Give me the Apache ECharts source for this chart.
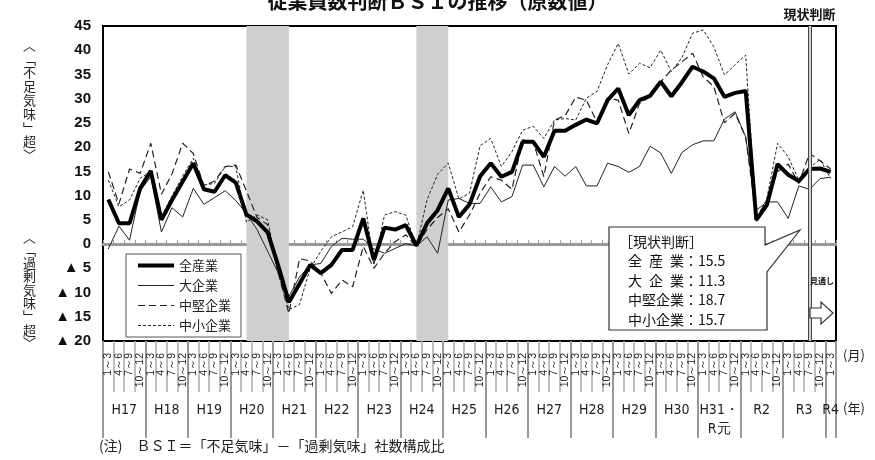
<!DOCTYPE html>
<html>
<head>
<meta charset="utf-8">
<title>従業員数判断BSIの推移</title>
<script src="https://cdn.jsdelivr.net/npm/echarts@6/dist/echarts.min.js"></script>
<style>
  html, body { margin: 0; padding: 0; background: #fff; }
  #chart { width: 875px; height: 460px; }
</style>
</head>
<body>
<div id="chart"></div>
<script>
// 四半期・年のラベル
const quarterNames = ['1～3', '4～6', '7～9', '10～12'];
const yearNames = ['H17', 'H18', 'H19', 'H20', 'H21', 'H22', 'H23', 'H24', 'H25',
  'H26', 'H27', 'H28', 'H29', 'H30', 'H31・\nR元', 'R2', 'R3', 'R4'];

// BSI（H17 1-3月 ～ R4 1-3月、四半期）
const allIndustries = [
  9.2, 4.3, 4.3, 11.5,  15.1, 5.0, 9.1, 12.9,  16.7, 11.3, 10.8, 14.2,
  12.7, 6.1, 4.7, 2.4,  -4.5, -12.0, -8.2, -4.3,  -6.0, -4.3, -1.2, -1.2,
  5.3, -3.3, 3.4, 3.0,  3.9, -0.3, 4.3, 7.0,  11.5, 5.6, 8.2, 14.0,
  16.7, 13.9, 14.9, 21.1,  21.1, 18.0, 23.4, 23.4,  24.6, 25.7, 24.9, 29.7,
  32.1, 26.6, 29.7, 30.6,  33.5, 30.5, 33.4, 36.6,  35.6, 34.2, 30.4, 31.2,
  31.6, 5.0, 8.1, 16.5,  14.3, 13.0, 15.5, 15.6,  14.9
];
const largeCorp = [
  -1.0, 3.7, 0.8, 11.0,  13.9, 2.5, 7.5, 5.6,  11.5, 8.2, 9.6, 11.0,
  9.0, 6.3, 3.0, -1.5,  -6.0, -10.8, -6.8, -4.3,  -4.0, -0.5, 1.2, 1.0,
  1.0, -1.0, -1.9, -0.9,  0.1, -0.4, 1.5, -1.9,  9.1, 9.4, 8.4, 8.4,
  11.8, 8.7, 9.8, 16.3,  16.3, 11.8, 16.0, 14.0,  16.0, 12.0, 12.0, 16.7,
  16.0, 14.8, 16.0, 20.2,  18.8, 14.6, 18.9, 20.5,  21.3, 21.3, 25.8, 27.3,
  22.1, 7.0, 8.7, 8.7,  5.3, 12.0, 11.3, 13.5,  13.8
];
const midCorp = [
  14.9, 8.3, 15.5, 14.6,  20.8, 10.3, 14.5, 20.8,  18.7, 12.0, 13.0, 16.0,
  16.3, 11.0, 5.5, 4.0,  -6.0, -14.3, -3.0, -3.5,  -6.0, -10.2, -7.4, -8.8,
  -0.5, -5.0, -1.9, 0.5,  1.9, -0.5, 3.0, 5.5,  7.3, 2.5, 6.0, 10.5,
  13.9, 13.2, 11.3, 21.5,  21.1, 13.9, 25.6, 26.5,  30.3, 29.7, 25.2, 30.1,
  29.7, 22.8, 29.0, 30.4,  33.5, 35.9, 37.6, 39.4,  34.5, 32.5, 25.0, 27.0,
  22.0, 5.5, 9.0, 15.0,  16.5, 12.5, 18.7, 17.2,  15.5
];
const smallCorp = [
  13.2, 7.7, 9.1, 13.6,  14.9, 5.6, 10.0, 14.0,  17.7, 12.2, 12.5, 16.0,
  16.0, 4.5, 6.0, 5.0,  -6.0, -13.5, -12.5, -5.0,  -1.5, 1.5, 2.5, 3.6,
  11.1, -4.3, 6.0, 6.7,  6.0, -0.5, 9.1, 14.4,  16.7, 9.3, 10.5, 20.3,
  21.8, 16.0, 19.1, 23.5,  24.3, 21.8, 25.6, 25.9,  25.6, 30.1, 31.5, 37.0,
  41.4, 35.1, 37.3, 36.4,  40.0, 35.6, 38.5, 43.5,  44.2, 40.7, 34.9, 37.0,
  39.0, 4.5, 9.5, 20.8,  18.0, 13.2, 15.7, 17.5,  13.5
];

// 景気後退期（網掛け）と現状判断の位置（四半期インデックス）
const shadeRanges = [[13, 17], [29, 32]];
const currentIndex = 66;

const categories = [];
yearNames.forEach((y, yi) => {
  quarterNames.forEach((q, qi) => {
    if (yi < yearNames.length - 1 || qi === 0) categories.push(q);
  });
});
const nQ = categories.length;
const yearTicks = yearNames.map((y, i) => i * 4).concat([nQ]);
const yearCenters = yearNames.map((y, i) => Math.min(i * 4 + 2, (i * 4 + nQ) / 2));

const LAT = "'Liberation Sans', Arial, sans-serif";
const JP = "'Noto Sans CJK JP', sans-serif";

const chart = echarts.init(document.getElementById('chart'));

function lineSeries (name, data, style) {
  return {
    name: name,
    type: 'line',
    data: data,
    symbol: 'none',
    z: 3,
    animation: false,
    itemStyle: { color: style.color },
    lineStyle: style
  };
}

const boxLabels = ['全\u2002産\u2002業', '大\u2002企\u2002業', '中堅企業', '中小企業'];
const boxValues = [allIndustries, largeCorp, midCorp, smallCorp].map(a => a[currentIndex].toFixed(1));

const graphics = [
  // 縦書きの軸タイトル
  {
    type: 'text', left: 23, top: 38, z: 10,
    style: { text: '︿\n﹁\n不\n足\n気\n味\n﹂\n超\n﹀', font: '13px ' + JP, lineHeight: 13.8, fill: '#222', align: 'center' }
  },
  {
    type: 'text', left: 23, top: 230, z: 10,
    style: { text: '︿\n﹁\n過\n剰\n気\n味\n﹂\n超\n﹀', font: '13px ' + JP, lineHeight: 13.3, fill: '#222', align: 'center' }
  },
  { type: 'text', left: 843, top: 349, style: { text: '(月)', font: '13px ' + JP, fill: '#222' } },
  { type: 'text', left: 843, top: 402, style: { text: '(年)', font: '13px ' + JP, fill: '#222' } },
  {
    type: 'text', left: 99, top: 439,
    style: { text: '(注)　ＢＳＩ＝「不足気味」－「過剰気味」社数構成比', font: '14px ' + JP, fill: '#222' }
  },
  { type: 'text', left: 58, top: -15, style: { text: '（図表１）', font: '14px ' + JP, fill: '#aaa' } },
  // 吹き出し
  {
    type: 'polygon', z: 20,
    shape: { points: [[609, 227], [765, 227], [765, 245], [800, 230], [767, 272], [767, 330], [609, 330]] },
    style: { fill: '#fff', stroke: '#333', lineWidth: 1.2 }
  },
  { type: 'text', left: 619, top: 235, z: 21, style: { text: '［現状判断］', font: '14px ' + JP, fill: '#111' } },
  // 見通し
  { type: 'text', left: 810, top: 277, z: 21, style: { text: '見通し', font: 'bold 8px ' + JP, fill: '#111' } },
  {
    type: 'polygon', z: 20,
    shape: { points: [[810, 308], [821, 308], [821, 302], [833, 313], [821, 324], [821, 318], [810, 318]] },
    style: { fill: '#fff', stroke: '#333', lineWidth: 1.2 }
  }
];
boxLabels.forEach((lab, i) => {
  graphics.push({
    type: 'text', left: 628, top: 254 + i * 19.5, z: 21,
    style: { text: lab + '：' + boxValues[i], font: '14px ' + JP, fill: '#111' }
  });
});

const option = {
  animation: false,
  title: {
    text: '従業員数判断ＢＳＩの推移（原数値）',
    left: 'center',
    top: -14,
    textStyle: { fontSize: 20, fontWeight: 'bold', fontFamily: JP, color: '#111' }
  },
  legend: {
    data: [
      { name: '全産業', lineStyle: { width: 4 } },
      { name: '大企業', lineStyle: { width: 1 } },
      { name: '中堅企業', lineStyle: { width: 1.2 } },
      { name: '中小企業', lineStyle: { width: 1 } }
    ],
    orient: 'vertical',
    left: 126,
    top: 254,
    itemWidth: 36,
    itemHeight: 10,
    itemGap: 7,
    padding: [5, 10, 5, 10],
    backgroundColor: '#fff',
    borderColor: '#555',
    borderWidth: 1,
    itemStyle: { opacity: 0 },
    textStyle: { fontSize: 13, fontFamily: JP, color: '#222' }
  },
  grid: {
    left: 103, right: 39, top: 26, bottom: 119,
    show: true, borderColor: '#000', borderWidth: 2, backgroundColor: 'transparent'
  },
  xAxis: [
    {
      // 月（四半期）ラベルと区切り線
      type: 'category',
      data: categories,
      position: 'bottom',
      axisLine: { show: false, onZero: false },
      axisTick: { show: true, interval: 0, length: 51, lineStyle: { color: '#aaa', width: 1.5 } },
      axisLabel: { interval: 0, rotate: 90, margin: 12, fontSize: 10.5, fontFamily: LAT, color: '#222' }
    },
    {
      // ゼロ線
      type: 'category',
      data: categories,
      position: 'bottom',
      axisLine: { show: true, onZero: true, lineStyle: { color: '#999', width: 3 } },
      axisTick: { show: true, inside: true, interval: 0, length: 4, lineStyle: { color: '#999', width: 1 } },
      axisLabel: { show: false }
    },
    {
      // 年ラベルと区切り線
      type: 'value',
      min: 0,
      max: nQ,
      position: 'bottom',
      axisLine: { show: false, onZero: false },
      splitLine: { show: false },
      axisTick: { show: true, customValues: yearTicks, length: 97, lineStyle: { color: '#999', width: 2 } },
      axisLabel: {
        customValues: yearCenters,
        margin: 60,
        fontSize: 14,
        lineHeight: 19,
        fontFamily: "'Liberation Sans Narrow', 'DejaVu Sans Condensed', " + LAT,
        color: '#222',
        formatter: v => yearNames[Math.min(Math.floor(v / 4), yearNames.length - 1)]
      }
    }
  ],
  yAxis: {
    type: 'value',
    min: -20,
    max: 45,
    interval: 5,
    axisLine: { show: false },
    axisTick: { show: false },
    splitLine: { show: false },
    axisLabel: {
      margin: 12,
      fontSize: 15,
      fontWeight: 'bold',
      fontFamily: LAT,
      color: '#111',
      formatter: v => (v < 0 ? '▲ ' + (-v) : String(v))
    }
  },
  graphic: graphics,
  series: [
    {
      // 網掛けと現状判断の区切り
      name: 'shade',
      type: 'line',
      data: [],
      z: 1,
      markArea: {
        silent: true,
        itemStyle: { color: '#cfcfcf' },
        data: shadeRanges.map(r => [{ xAxis: r[0] }, { xAxis: r[1] }])
      },
      markLine: {
        silent: true,
        symbol: ['none', 'none'],
        animation: false,
        data: [
          {
            xAxis: currentIndex,
            lineStyle: { color: '#444', width: 4, type: 'solid' },
            label: { show: true, position: 'end', distance: 5, formatter: '現状判断', fontSize: 13, fontWeight: 'bold', fontFamily: JP, color: '#111' }
          },
          {
            xAxis: currentIndex,
            lineStyle: { color: '#fff', width: 1.5, type: 'solid' },
            label: { show: false }
          }
        ]
      }
    },
    lineSeries('大企業', largeCorp, { color: '#222', width: 1, type: 'solid' }),
    lineSeries('中堅企業', midCorp, { color: '#222', width: 1.2, type: [7, 4] }),
    lineSeries('中小企業', smallCorp, { color: '#222', width: 1, type: [3, 2] }),
    lineSeries('全産業', allIndustries, { color: '#000', width: 4, type: 'solid' })
  ]
};

chart.setOption(option);
</script>
</body>
</html>
